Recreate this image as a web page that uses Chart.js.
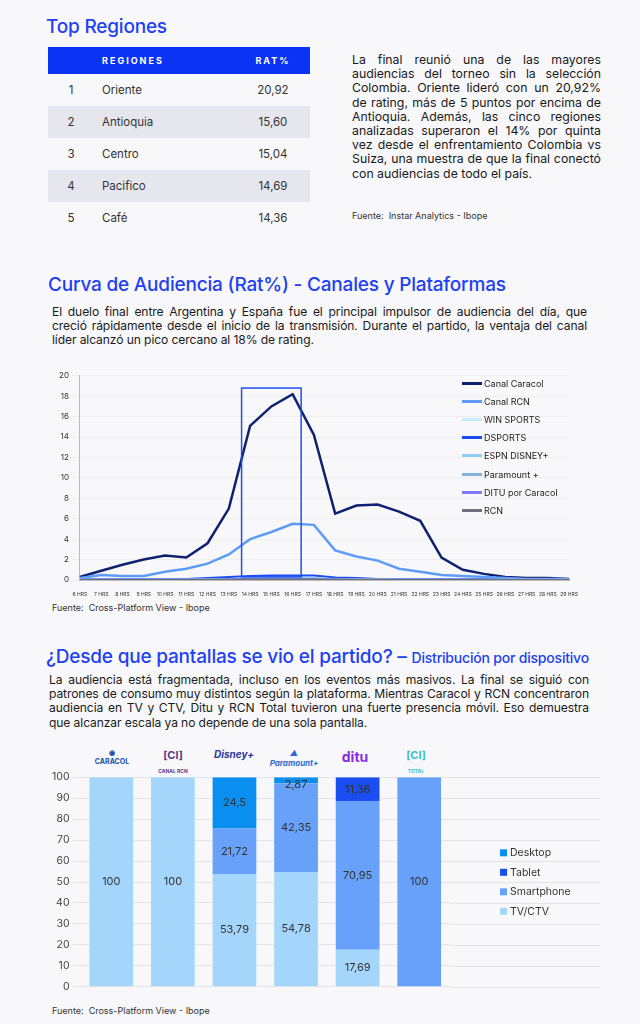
<!DOCTYPE html>
<html><head><meta charset="utf-8">
<script src="https://cdn.jsdelivr.net/npm/chart.js@4"></script>
<style>
body{margin:0;width:640px;height:1024px;background:#f8f8fa;font-family:Inter,"Liberation Sans",sans-serif;color:#222;position:relative;overflow:hidden}
.abs{position:absolute}
h2{margin:0;font-weight:500;color:#2140f3;font-size:19px;position:absolute;letter-spacing:-0.2px}
p{margin:0;position:absolute;font-size:12.1px;line-height:14.2px;text-align:justify;color:#1a1a1a;letter-spacing:-0.1px}
table{border-collapse:collapse;position:absolute;left:48px;top:47px;width:262px;font-size:11.5px}
th{background:#0a33f5;color:#fff;font-size:9px;letter-spacing:2px;height:25px;font-weight:700}
td{height:30px;color:#333}
tr.alt td{background:#e6e6ee}
.src{font-size:9px;color:#333;position:absolute}
.leg{position:absolute;left:462px;top:374px;font-size:9px;color:#222}
.leg div{height:18.2px;display:flex;align-items:center}
.leg span{display:inline-block;width:20px;height:3px;margin-right:2px}
.logo{position:absolute;top:748px;width:50px;text-align:center;font-size:7px;font-weight:700}
</style></head><body>
<h2 style="left:46px;top:15px">Top Regiones</h2>
<table id="reg"><thead><tr><th style="width:44px"></th><th style="text-align:left;padding-left:8px">REGIONES</th><th>RAT%</th></tr></thead><tbody></tbody></table>
<p style="left:352px;top:53px;width:249px;font-size:12.3px;letter-spacing:0">La final reunió una de las mayores audiencias del torneo sin la selección Colombia. Oriente lideró con un 20,92% de rating, más de 5 puntos por encima de Antioquia. Además, las cinco regiones analizadas superaron el 14% por quinta vez desde el enfrentamiento Colombia vs Suiza, una muestra de que la final conectó con audiencias de todo el país.</p>
<div class="src" style="left:352px;top:210px">Fuente:&nbsp; Instar Analytics - Ibope</div>

<h2 style="left:48px;top:273px">Curva de Audiencia (Rat%) - Canales y Plataformas</h2>
<p style="left:52px;top:305px;width:535px">El duelo final entre Argentina y España fue el principal impulsor de audiencia del día, que creció rápidamente desde el inicio de la transmisión. Durante el partido, la ventaja del canal líder alcanzó un pico cercano al 18% de rating.</p>
<div class="abs" style="left:56px;top:368px;width:525px;height:232px"><canvas id="line"></canvas></div>
<div class="leg" id="leg"></div>
<div class="src" style="left:52px;top:602px">Fuente:&nbsp; Cross-Platform View - Ibope</div>

<h2 style="left:46px;top:645px">¿Desde que pantallas se vio el partido? – <span style="font-size:14px">Distribución por dispositivo</span></h2>
<p style="left:49px;top:673px;width:540px">La audiencia está fragmentada, incluso en los eventos más masivos. La final se siguió con patrones de consumo muy distintos según la plataforma. Mientras Caracol y RCN concentraron audiencia en TV y CTV, Ditu y RCN Total tuvieron una fuerte presencia móvil. Eso demuestra que alcanzar escala ya no depende de una sola pantalla.</p>
<div class="logo" style="left:87px;color:#1d4fa8">◉<br>CARACOL</div>
<div class="logo" style="left:148px;color:#5a3a8c;font-size:11px">[Cl]<br><span style="font-size:5px">CANAL RCN</span></div>
<div class="logo" style="left:209px;color:#2a3aa0;font-size:10px;font-style:italic">Disney+</div>
<div class="logo" style="left:269px;color:#2d6ad8;font-size:8px;font-style:italic">▲<br>Paramount+</div>
<div class="logo" style="left:330px;color:#8a2be2;font-size:14px">ditu</div>
<div class="logo" style="left:391px;color:#3cc0c8;font-size:11px">[Cl]<br><span style="font-size:5px">TOTAL</span></div>
<div class="abs" style="left:49px;top:768px;width:551px;height:228px"><canvas id="bar"></canvas></div>
<div class="src" style="left:52px;top:1005px">Fuente:&nbsp; Cross-Platform View - Ibope</div>

<script>
const regionRanks = [1, 2, 3, 4, 5];
const regionNames = ['Oriente', 'Antioquia', 'Centro', 'Pacifico', 'Café'];
const regionRat = ['20,92', '15,60', '15,04', '14,69', '14,36'];

const hours = ['6 HRS','7 HRS','8 HRS','9 HRS','10 HRS','11 HRS','12 HRS','13 HRS','14 HRS','15 HRS','16 HRS','17 HRS','18 HRS','19 HRS','20 HRS','21 HRS','22 HRS','23 HRS','24 HRS','25 HRS','26 HRS','27 HRS','28 HRS','29 HRS'];
const caracol  = [0.3,0.9,1.5,2.0,2.4,2.2,3.6,7.0,15.1,17.0,18.2,14.2,6.5,7.3,7.4,6.7,5.8,2.2,1.0,0.6,0.3,0.2,0.2,0.1];
const rcn      = [0.2,0.5,0.4,0.4,0.8,1.1,1.6,2.5,4.0,4.7,5.5,5.4,2.9,2.3,1.9,1.1,0.8,0.5,0.4,0.3,0.2,0.1,0.1,0.1];
const win      = [0.1,0.1,0.1,0.1,0.1,0.1,0.1,0.1,0.1,0.1,0.1,0.1,0.1,0.1,0.1,0.1,0.1,0.1,0.1,0.1,0.1,0.1,0.1,0.1];
const dsports  = [0.05,0.1,0.1,0.1,0.1,0.1,0.2,0.3,0.4,0.45,0.45,0.45,0.25,0.2,0.1,0.1,0.1,0.1,0.1,0.1,0.05,0.05,0.05,0.05];
const espn     = [0.05,0.05,0.05,0.05,0.05,0.05,0.1,0.1,0.15,0.2,0.2,0.2,0.1,0.1,0.1,0.05,0.05,0.05,0.05,0.05,0.05,0.05,0.05,0.05];
const paramount= [0.02,0.02,0.02,0.02,0.02,0.02,0.05,0.05,0.1,0.1,0.1,0.1,0.05,0.05,0.05,0.02,0.02,0.02,0.02,0.02,0.02,0.02,0.02,0.02];
const ditu     = [0.02,0.02,0.02,0.02,0.02,0.02,0.03,0.05,0.08,0.08,0.08,0.08,0.05,0.03,0.03,0.02,0.02,0.02,0.02,0.02,0.02,0.02,0.02,0.02];
const rcnOtt   = [0.01,0.01,0.01,0.01,0.01,0.01,0.02,0.03,0.05,0.05,0.05,0.05,0.03,0.02,0.02,0.01,0.01,0.01,0.01,0.01,0.01,0.01,0.01,0.01];
const lineNames = ['Canal Caracol','Canal RCN','WIN SPORTS','DSPORTS','ESPN DISNEY+','Paramount +','DITU por Caracol','RCN'];
const lineColors = ['#0e2170','#5d9cf6','#c6ecfb','#1b4cf2','#8fccf8','#80b2dc','#7f7af5','#6b6f7f'];
const highlight = { from: 7.6, to: 10.4, top: 18.8, bottom: 0.3 };

const platforms = ['Caracol','Canal RCN','Disney+','Paramount+','Ditu','RCN Total'];
const tvCtv      = [100, 100, 53.79, 54.78, 17.69, 0];
const smartphone = [0, 0, 21.72, 42.35, 70.95, 100];
const tablet     = [0, 0, 0, 0, 11.36, 0];
const desktop    = [0, 0, 24.5, 2.87, 0, 0];
const deviceNames = ['TV/CTV','Smartphone','Tablet','Desktop'];
const deviceColors = ['#a4d5fb','#67a1f9','#1a4ef0','#0a8ef0'];

const tb = document.querySelector('#reg tbody');
regionNames.forEach((n, i) => {
  tb.innerHTML += `<tr class="${i % 2 ? 'alt' : ''}"><td style="text-align:center">${regionRanks[i]}</td><td style="padding-left:8px">${n}</td><td style="text-align:center">${regionRat[i]}</td></tr>`;
});

const leg = document.getElementById('leg');
lineNames.forEach((n, i) => { leg.innerHTML += `<div><span style="background:${lineColors[i]}"></span>${n}</div>`; });

Chart.defaults.font.family = 'Inter, "Liberation Sans", sans-serif';
Chart.defaults.color = '#333';

const boxPlugin = {
  id: 'box',
  afterDatasetsDraw(chart) {
    const { ctx, scales: { x, y } } = chart;
    const step = x.getPixelForValue(1) - x.getPixelForValue(0);
    const l = x.getPixelForValue(0) + step * highlight.from, r = x.getPixelForValue(0) + step * highlight.to;
    ctx.save(); ctx.strokeStyle = '#1f4ff2'; ctx.lineWidth = 1.5;
    ctx.strokeRect(l, y.getPixelForValue(highlight.top), r - l, y.getPixelForValue(highlight.bottom) - y.getPixelForValue(highlight.top));
    ctx.restore();
  }
};

const series = [caracol, rcn, win, dsports, espn, paramount, ditu, rcnOtt];
new Chart(document.getElementById('line'), {
  type: 'line',
  data: { labels: hours, datasets: series.map((d, i) => ({ label: lineNames[i], data: d, borderColor: lineColors[i], borderWidth: i < 2 ? 2.5 : 2, pointRadius: 0, tension: 0, order: 8 - i })) },
  options: {
    responsive: true, maintainAspectRatio: false, animation: false,
    plugins: { legend: { display: false }, tooltip: { enabled: false } },
    scales: {
      x: { grid: { display: false }, border: { color: '#bbb' }, ticks: { font: { size: 5 }, maxRotation: 0, autoSkip: false } },
      y: { min: 0, max: 20, ticks: { stepSize: 2, font: { size: 8 } }, grid: { color: '#eee' }, border: { color: '#bbb' } }
    }
  },
  plugins: [boxPlugin]
});

const extendGrid = {
  id: 'extendGrid',
  beforeDatasetsDraw(chart) {
    const { ctx, chartArea, scales: { y } } = chart;
    ctx.save(); ctx.strokeStyle = '#e4e4e8'; ctx.lineWidth = 1;
    y.ticks.forEach(t => {
      const py = Math.round(y.getPixelForValue(t.value)) + 0.5;
      ctx.beginPath(); ctx.moveTo(chartArea.right, py); ctx.lineTo(chart.width, py); ctx.stroke();
    });
    ctx.restore();
  },
  afterDraw(chart) {
    const { ctx, chartArea } = chart;
    const items = [3, 2, 1, 0];
    ctx.save(); ctx.font = '10.5px Inter, "Liberation Sans", sans-serif'; ctx.textBaseline = 'middle';
    items.forEach((k, i) => {
      const yy = chartArea.top + 76 + i * 19.5, xx = chartArea.right + 50;
      ctx.fillStyle = deviceColors[k]; ctx.fillRect(xx, yy - 4, 7, 7);
      ctx.fillStyle = '#333'; ctx.fillText(deviceNames[k], xx + 10, yy);
    });
    ctx.restore();
  }
};

const stack = [tvCtv, smartphone, tablet, desktop];
new Chart(document.getElementById('bar'), {
  type: 'bar',
  data: { labels: platforms, datasets: stack.map((d, i) => ({ label: deviceNames[i], data: d, backgroundColor: deviceColors[i], categoryPercentage: 1, barPercentage: 0.71 })) },
  options: {
    responsive: true, maintainAspectRatio: false, animation: false,
    layout: { padding: { right: 150, top: 9 } },
    plugins: { legend: { display: false }, tooltip: { enabled: false } },
    scales: {
      x: { stacked: true, grid: { display: false }, border: { display: false }, ticks: { display: false } },
      y: { stacked: true, min: 0, max: 100, ticks: { stepSize: 10, font: { size: 10.5 }, color: '#444' }, grid: { color: '#e4e4e8' }, border: { display: false } }
    }
  },
  plugins: [extendGrid, {
    id: 'labels',
    afterDatasetsDraw(chart) {
      const { ctx } = chart;
      ctx.save(); ctx.font = '11px Inter, "Liberation Sans", sans-serif'; ctx.fillStyle = '#333'; ctx.textAlign = 'center'; ctx.textBaseline = 'middle';
      chart.data.datasets.forEach((ds, di) => {
        chart.getDatasetMeta(di).data.forEach((bar, i) => {
          const v = ds.data[i]; if (!v) return;
          const y = v < 5 ? bar.y + 7 : (bar.y + bar.base) / 2;
          ctx.fillText(String(v).replace('.', ','), bar.x, y);
        });
      });
      ctx.restore();
    }
  }]
});
</script>
</body></html>
